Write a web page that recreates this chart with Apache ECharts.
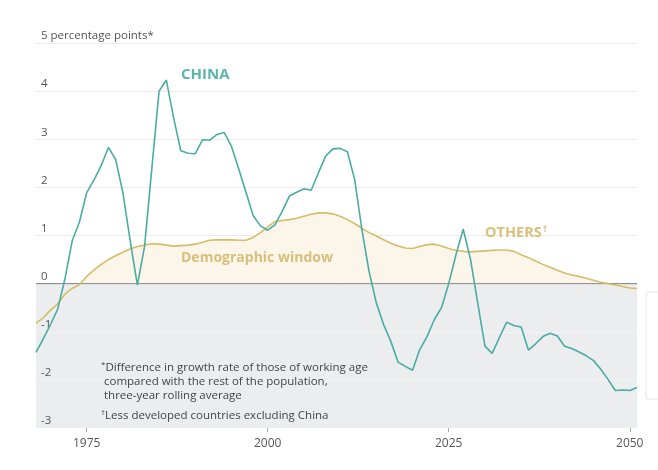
<!DOCTYPE html>
<html>
<head>
<meta charset="utf-8">
<script src="https://cdn.jsdelivr.net/npm/echarts@6/dist/echarts.min.js"></script>
<style>
html,body{margin:0;padding:0;background:#fff;}
#chart{width:658px;height:470px;}
</style>
</head>
<body>
<div id="chart"></div>
<script>
const years = [1968,1969,1970,1971,1972,1973,1974,1975,1976,1977,1978,1979,1980,1981,1982,1983,1984,1985,1986,1987,1988,1989,1990,1991,1992,1993,1994,1995,1996,1997,1998,1999,2000,2001,2002,2003,2004,2005,2006,2007,2008,2009,2010,2011,2012,2013,2014,2015,2016,2017,2018,2019,2020,2021,2022,2023,2024,2025,2026,2027,2028,2029,2030,2031,2032,2033,2034,2035,2036,2037,2038,2039,2040,2041,2042,2043,2044,2045,2046,2047,2048,2049,2050,2051];
const china = [-1.43,-1.15,-0.85,-0.53,0.1,0.89,1.28,1.89,2.15,2.45,2.83,2.58,1.89,0.9,-0.03,0.78,2.4,4.0,4.23,3.45,2.76,2.71,2.70,2.99,2.98,3.10,3.14,2.85,2.38,1.9,1.41,1.2,1.11,1.22,1.5,1.82,1.9,1.97,1.94,2.3,2.65,2.8,2.81,2.74,2.17,1.13,0.25,-0.4,-0.85,-1.2,-1.63,-1.72,-1.80,-1.37,-1.1,-0.75,-0.5,0.0,0.6,1.13,0.51,-0.4,-1.30,-1.45,-1.12,-0.80,-0.87,-0.90,-1.38,-1.25,-1.1,-1.03,-1.09,-1.30,-1.35,-1.42,-1.5,-1.6,-1.78,-1.99,-2.22,-2.21,-2.22,-2.16];
const others = [-0.82,-0.71,-0.55,-0.42,-0.22,-0.1,-0.02,0.15,0.28,0.40,0.50,0.58,0.65,0.72,0.77,0.80,0.83,0.82,0.80,0.78,0.79,0.80,0.82,0.86,0.90,0.91,0.91,0.91,0.90,0.90,0.96,1.06,1.18,1.29,1.31,1.33,1.36,1.40,1.44,1.47,1.47,1.45,1.40,1.33,1.25,1.15,1.06,0.99,0.91,0.84,0.78,0.74,0.73,0.77,0.81,0.82,0.78,0.73,0.69,0.67,0.66,0.67,0.68,0.69,0.70,0.70,0.67,0.60,0.54,0.47,0.40,0.34,0.28,0.22,0.18,0.15,0.11,0.07,0.03,0.0,-0.03,-0.06,-0.09,-0.10];
const xTicks = [1975,2000,2025,2050];
const yTicks = [-3,-2,-1,0,1,2,3,4,5];

const TEAL = '#4aaca3';
const GOLD = '#d6bc66';
const FONT = '"Open Sans", "Noto Sans", sans-serif';

const chinaData = years.map((y,i)=>[y, china[i]]);
const othersData = years.map((y,i)=>[y, others[i]]);
const othersFill = years.map((y,i)=>[y, Math.max(0, others[i])]);

const noteStyle = {fill:'#444', font:'11.5px ' + FONT};
const supRich = {sup:{fontSize:8, verticalAlign:'top', padding:[0,0,5,0], fill:'#444', fontFamily:FONT}, t:{fontSize:11.5, fill:'#444', fontFamily:FONT}};

const chart = echarts.init(document.getElementById('chart'), null, {renderer:'canvas'});
chart.setOption({
  animation:false,
  backgroundColor:'#fff',
  grid:{left:36, right:21, top:43, bottom:42},
  xAxis:{
    type:'value', min:1968, max:2051,
    axisLine:{show:false, onZero:false},
    splitLine:{show:false},
    axisTick:{show:true, customValues:xTicks, length:4, lineStyle:{color:'#aaaaaa'}},
    axisLabel:{customValues:xTicks, color:'#555', fontSize:12, fontFamily:FONT, margin:10,
      formatter:function(v){ return String(v); }}
  },
  yAxis:{
    type:'value', min:-3, max:5, interval:1,
    axisLine:{show:false}, axisTick:{show:false},
    splitArea:{show:true, areaStyle:{color:['#ebedef','#ebedef','#ebedef','rgba(0,0,0,0)','rgba(0,0,0,0)','rgba(0,0,0,0)','rgba(0,0,0,0)','rgba(0,0,0,0)']}},
    splitLine:{show:true, lineStyle:{color:['rgba(0,0,0,0)','#f3f4f5','#f3f4f5','#8c8c8c','#ebebeb','#ebebeb','#ebebeb','#ebebeb','#ebebeb'], width:1}},
    axisLabel:{
      inside:true, align:'left', verticalAlign:'bottom', margin:5, padding:[0,0,1,0],
      color:'#555', fontSize:11.5, fontFamily:FONT,
      formatter:function(v){ return v===5 ? '5 percentage points*' : String(v); }
    }
  },
  series:[
    {
      type:'line', data:othersFill, showSymbol:false, silent:true, z:1,
      lineStyle:{width:0, opacity:0},
      areaStyle:{color:'#fbf6e9', opacity:1, origin:0}
    },
    {
      type:'line', data:[[1968,0],[2051,0]], showSymbol:false, silent:true, z:2,
      lineStyle:{color:'#8c8c8c', width:1}
    },
    {
      name:'Others', type:'line', data:othersData, showSymbol:false, z:3,
      lineStyle:{color:GOLD, width:1.6}
    },
    {
      name:'China', type:'line', data:chinaData, showSymbol:false, z:4,
      lineStyle:{color:TEAL, width:1.6}
    }
  ],
  graphic:[
    {type:'text', z:100, left:181, top:67, style:{text:'CHINA', fill:'#5ab5ad', font:'bold 15px ' + FONT}},
    {type:'text', z:100, left:181, top:251, style:{text:'Demographic window', fill:'#d8c07a', font:'bold 14px ' + FONT}},
    {type:'text', z:100, left:485, top:225, style:{text:'{a|OTHERS}{s|\u2020}', rich:{a:{fill:'#d8c07a', font:'bold 14.5px ' + FONT}, s:{fill:'#d8c07a', fontSize:9, fontWeight:'bold', fontFamily:FONT, verticalAlign:'top', padding:[0,0,6,1]}}}},
    {type:'text', z:100, left:101, top:361, style:{text:'{sup|*}{t|Difference in growth rate of those of working age}', rich:supRich}},
    {type:'text', z:100, left:104, top:376, style:{text:'compared with the rest of the population,', ...noteStyle}},
    {type:'text', z:100, left:104, top:390, style:{text:'three-year rolling average', ...noteStyle}},
    {type:'text', z:100, left:101, top:409, style:{text:'{sup|\u2020}{t|Less developed countries excluding China}', rich:supRich}},
    {type:'rect', z:100, shape:{x:646, y:292, width:20, height:107, r:3}, style:{fill:'#fff', stroke:'#e4e4e4', lineWidth:1}}
  ]
});
</script>
</body>
</html>
